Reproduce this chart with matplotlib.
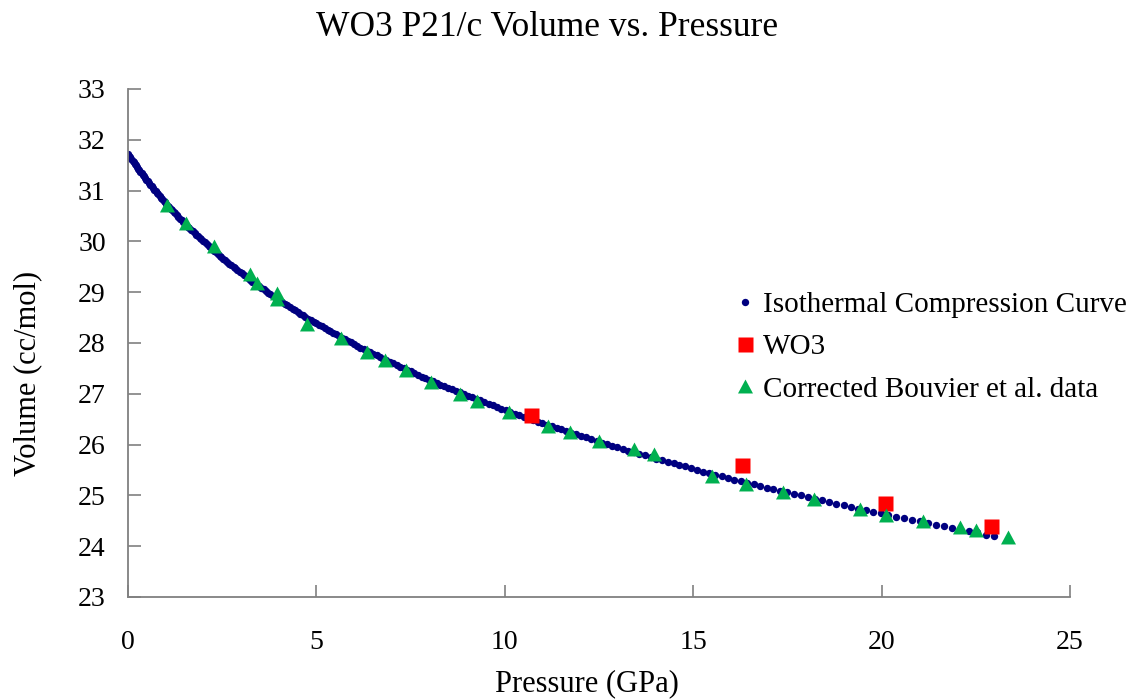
import matplotlib
matplotlib.use('Agg')
import matplotlib.pyplot as plt

# isothermal compression curve (GPa, cc/mol)
curve_P = [0.00, 0.03, 0.06, 0.09, 0.12, 0.15, 0.18, 0.21, 0.24, 0.27,
           0.30, 0.33, 0.36, 0.39, 0.43, 0.46, 0.49, 0.53, 0.56, 0.59,
           0.63, 0.66, 0.70, 0.73, 0.77, 0.80, 0.84, 0.87, 0.91, 0.95,
           0.99, 1.02, 1.06, 1.10, 1.14, 1.18, 1.22, 1.26, 1.30, 1.34,
           1.38, 1.42, 1.46, 1.50, 1.55, 1.59, 1.63, 1.68, 1.72, 1.77,
           1.81, 1.86, 1.90, 1.95, 1.99, 2.04, 2.09, 2.14, 2.18, 2.23,
           2.28, 2.33, 2.38, 2.43, 2.48, 2.53, 2.58, 2.64, 2.69, 2.74,
           2.80, 2.85, 2.90, 2.96, 3.02, 3.07, 3.13, 3.18, 3.24, 3.30,
           3.36, 3.42, 3.48, 3.54, 3.60, 3.66, 3.72, 3.78, 3.85, 3.91,
           3.97, 4.04, 4.10, 4.17, 4.23, 4.30, 4.37, 4.44, 4.50, 4.57,
           4.64, 4.71, 4.78, 4.86, 4.93, 5.00, 5.07, 5.15, 5.22, 5.30,
           5.37, 5.45, 5.53, 5.61, 5.68, 5.76, 5.84, 5.92, 6.01, 6.09,
           6.17, 6.25, 6.34, 6.42, 6.51, 6.60, 6.68, 6.77, 6.86, 6.95,
           7.04, 7.13, 7.22, 7.32, 7.41, 7.50, 7.60, 7.70, 7.79, 7.89,
           7.99, 8.09, 8.19, 8.29, 8.39, 8.49, 8.60, 8.70, 8.81, 8.91,
           9.02, 9.13, 9.24, 9.35, 9.46, 9.57, 9.69, 9.80, 9.91, 10.03,
           10.15, 10.27, 10.39, 10.51, 10.63, 10.75, 10.87, 11.00, 11.12, 11.25,
           11.38, 11.50, 11.63, 11.76, 11.90, 12.03, 12.16, 12.30, 12.44, 12.57,
           12.71, 12.85, 12.99, 13.14, 13.28, 13.43, 13.57, 13.72, 13.87, 14.02,
           14.17, 14.32, 14.48, 14.63, 14.79, 14.95, 15.11, 15.27, 15.43, 15.59,
           15.76, 15.93, 16.09, 16.26, 16.43, 16.61, 16.78, 16.96, 17.13, 17.31,
           17.49, 17.67, 17.86, 18.04, 18.23, 18.42, 18.60, 18.80, 18.99, 19.18,
           19.38, 19.58, 19.78, 19.98, 20.18, 20.39, 20.59, 20.80, 21.01, 21.22,
           21.44, 21.65, 21.87, 22.09, 22.31, 22.54, 22.76, 22.99]
curve_V = [31.72, 31.69, 31.66, 31.62, 31.59, 31.56, 31.53, 31.50, 31.47, 31.43,
           31.40, 31.37, 31.34, 31.31, 31.28, 31.24, 31.21, 31.18, 31.15, 31.12,
           31.09, 31.05, 31.02, 30.99, 30.96, 30.93, 30.90, 30.86, 30.83, 30.80,
           30.77, 30.74, 30.70, 30.67, 30.64, 30.61, 30.58, 30.55, 30.51, 30.48,
           30.45, 30.42, 30.39, 30.36, 30.32, 30.29, 30.26, 30.23, 30.20, 30.17,
           30.13, 30.10, 30.07, 30.04, 30.01, 29.98, 29.94, 29.91, 29.88, 29.85,
           29.82, 29.79, 29.75, 29.72, 29.69, 29.66, 29.63, 29.59, 29.56, 29.53,
           29.50, 29.47, 29.44, 29.40, 29.37, 29.34, 29.31, 29.28, 29.25, 29.21,
           29.18, 29.15, 29.12, 29.09, 29.06, 29.02, 28.99, 28.96, 28.93, 28.90,
           28.87, 28.83, 28.80, 28.77, 28.74, 28.71, 28.67, 28.64, 28.61, 28.58,
           28.55, 28.52, 28.48, 28.45, 28.42, 28.39, 28.36, 28.33, 28.29, 28.26,
           28.23, 28.20, 28.17, 28.14, 28.10, 28.07, 28.04, 28.01, 27.98, 27.95,
           27.91, 27.88, 27.85, 27.82, 27.79, 27.76, 27.72, 27.69, 27.66, 27.63,
           27.60, 27.56, 27.53, 27.50, 27.47, 27.44, 27.41, 27.37, 27.34, 27.31,
           27.28, 27.25, 27.22, 27.18, 27.15, 27.12, 27.09, 27.06, 27.03, 26.99,
           26.96, 26.93, 26.90, 26.87, 26.84, 26.80, 26.77, 26.74, 26.71, 26.68,
           26.64, 26.61, 26.58, 26.55, 26.52, 26.49, 26.45, 26.42, 26.39, 26.36,
           26.33, 26.30, 26.26, 26.23, 26.20, 26.17, 26.14, 26.11, 26.07, 26.04,
           26.01, 25.98, 25.95, 25.92, 25.88, 25.85, 25.82, 25.79, 25.76, 25.72,
           25.69, 25.66, 25.63, 25.60, 25.57, 25.53, 25.50, 25.47, 25.44, 25.41,
           25.38, 25.34, 25.31, 25.28, 25.25, 25.22, 25.19, 25.15, 25.12, 25.09,
           25.06, 25.03, 25.00, 24.96, 24.93, 24.90, 24.87, 24.84, 24.81, 24.77,
           24.74, 24.71, 24.68, 24.65, 24.61, 24.58, 24.55, 24.52, 24.49, 24.46,
           24.42, 24.39, 24.36, 24.33, 24.30, 24.27, 24.23, 24.20]

# WO3 measurements
wo3_P = [10.69, 16.29, 20.09, 22.90]
wo3_V = [26.58, 25.59, 24.85, 24.39]

# corrected Bouvier et al. data
bouvier_P = [1.03, 1.53, 2.28, 3.23, 3.42, 3.95, 3.95, 4.75, 5.66, 6.35, 6.81, 7.37, 8.03, 8.82, 9.25, 10.10,
             11.15, 11.72, 12.50, 13.42, 13.96, 15.51, 16.39, 17.37, 18.20, 19.43, 20.13, 21.10, 22.08, 22.50, 23.36]
bouvier_V = [30.72, 30.37, 29.90, 29.36, 29.18, 28.99, 28.86, 28.38, 28.09, 27.83, 27.67, 27.46, 27.24, 27.00,
             26.86, 26.65, 26.37, 26.24, 26.08, 25.91, 25.81, 25.38, 25.23, 25.07, 24.93, 24.73, 24.62, 24.50,
             24.37, 24.31, 24.19]

plt.rcParams['font.family'] = ['Liberation Serif', 'DejaVu Serif']

fig = plt.figure(figsize=(11.3, 7), dpi=100)
ax = fig.add_axes([128 / 1130, 1 - 597 / 700, 942 / 1130, 508 / 700])

ax.plot(curve_P, curve_V, 'o', color='#000080', ms=5.3, mec='none', label='Isothermal Compression Curve')
ax.plot(wo3_P, wo3_V, 's', color='#FF0000', ms=10.8, mec='none', label='WO3')
tri = [(-1, -0.93), (1, -0.93), (0, 0.93)]
ax.plot(bouvier_P, bouvier_V, marker=tri, ls='none', color='#00B050', ms=10.8, mec='none',
        label='Corrected Bouvier et al. data')

ax.set_xlim(0, 25)
ax.set_ylim(23, 33)
ax.set_xticks(range(0, 26, 5))
ax.set_yticks(range(23, 34))
for s in ['top', 'right']:
    ax.spines[s].set_visible(False)
for s in ['left', 'bottom']:
    ax.spines[s].set_color('#808080')
    ax.spines[s].set_linewidth(1.3)
ax.tick_params(direction='in', length=9, width=1.2, color='#808080', labelsize=20)
ax.tick_params(axis='x', pad=24)
ax.tick_params(axis='y', pad=16)

fig.text(547 / 1130, 1 - 27 / 700, 'WO3 P21/c Volume vs. Pressure', ha='center', va='center', fontsize=25.5)
fig.text(587 / 1130, 1 - 684 / 700, 'Pressure (GPa)', ha='center', va='center', fontsize=22)
fig.text(28 / 1130, 1 - 373 / 700, 'Volume (cc/mol)', ha='center', va='center', rotation=90, fontsize=22)

fig.legend(loc='center left', bbox_to_anchor=(735 / 1130, 1 - 347 / 700), frameon=False, fontsize=21,
           handlelength=0.7, handletextpad=0.25, labelspacing=0.55, borderpad=0, borderaxespad=0)

fig.savefig('out.png')
